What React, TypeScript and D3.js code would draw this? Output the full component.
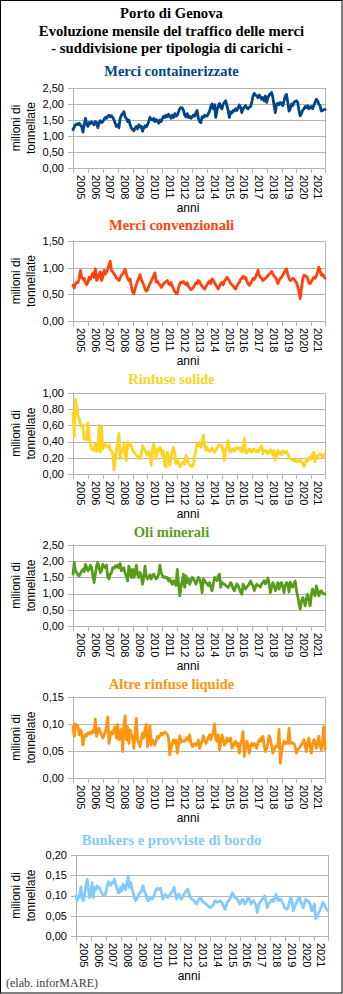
import React from "react";
import * as d3 from "d3";

const years = ["2005","2006","2007","2008","2009","2010","2011","2012","2013","2014","2015","2016","2017","2018","2019","2020","2021"];

const containerizzate = [
  1.20, 1.28, 1.35, 1.38, 1.36, 1.40, 1.33, 1.30, 1.12, 1.35, 1.55, 1.38,
  1.30, 1.42, 1.38, 1.45, 1.40, 1.35, 1.45, 1.42, 1.26, 1.40, 1.48, 1.42,
  1.45, 1.52, 1.58, 1.55, 1.62, 1.65, 1.60, 1.63, 1.58, 1.50, 1.40, 1.30,
  1.35, 1.26, 1.55, 1.65, 1.70, 1.76, 1.60, 1.55, 1.45, 1.50, 1.35, 1.25,
  1.20, 1.16, 1.25, 1.30, 1.22, 1.35, 1.28, 1.30, 1.15, 1.25, 1.32, 1.28,
  1.35, 1.45, 1.58, 1.52, 1.50, 1.55, 1.45, 1.52, 1.48, 1.40, 1.50, 1.45,
  1.55, 1.62, 1.58, 1.65, 1.60, 1.68, 1.62, 1.55, 1.65, 1.58, 1.70, 1.62,
  1.65, 1.75, 1.85, 1.89, 1.88, 1.80, 1.65, 1.60, 1.70, 1.58, 1.62, 1.55,
  1.60, 1.65, 1.62, 1.72, 1.80, 1.55, 1.45, 1.42, 1.60, 1.58, 1.65, 1.62,
  1.62, 1.70, 1.78, 1.92, 2.00, 1.85, 1.98, 1.58, 1.80, 1.95, 2.02, 1.90,
  1.85, 2.00, 2.05, 2.10, 1.95, 1.80, 1.58, 1.75, 1.72, 1.80, 1.78, 1.85,
  1.80, 1.88, 1.97, 1.90, 1.73, 1.85, 1.90, 1.95, 1.88, 1.85, 1.90, 1.92,
  2.05, 2.25, 2.33, 2.28, 2.25, 2.20, 2.28, 2.22, 2.15, 2.20, 2.10, 2.25,
  2.05, 2.20, 2.28, 2.32, 2.36, 2.20, 1.95, 1.73, 2.00, 2.02, 1.98, 2.05,
  2.00, 1.95, 2.10, 2.25, 2.30, 2.05, 1.78, 1.85, 2.00, 1.95, 2.05, 2.08,
  2.10, 2.05, 1.80, 1.63, 1.70, 1.80, 1.85, 1.92, 1.88, 1.95, 1.85, 1.90,
  1.92, 1.85, 1.95, 2.05, 2.15, 2.10, 2.00, 1.95, 1.78, 1.80, 1.82, 1.83,
];

const convenzionali = [
  0.67, 0.62, 0.70, 0.73, 0.72, 0.80, 0.95, 0.82, 0.78, 0.80, 0.72, 0.68,
  0.72, 0.82, 0.78, 0.85, 0.90, 0.82, 0.98, 0.76, 0.80, 0.88, 0.92, 0.76,
  0.82, 0.95, 0.88, 0.92, 0.98, 1.05, 1.12, 0.95, 0.92, 0.89, 0.85, 0.80,
  0.80, 0.76, 0.80, 0.86, 0.88, 0.92, 0.97, 0.88, 0.80, 0.76, 0.79, 0.65,
  0.55, 0.51, 0.60, 0.68, 0.75, 0.80, 0.87, 0.78, 0.73, 0.68, 0.60, 0.56,
  0.58, 0.65, 0.70, 0.75, 0.80, 0.85, 0.90, 0.73, 0.75, 0.70, 0.68, 0.63,
  0.66, 0.70, 0.72, 0.74, 0.76, 0.70, 0.68, 0.72, 0.65, 0.60, 0.55, 0.52,
  0.51, 0.62, 0.70, 0.73, 0.72, 0.74, 0.70, 0.68, 0.72, 0.65, 0.62, 0.59,
  0.60, 0.63, 0.68, 0.72, 0.70, 0.76, 0.74, 0.68, 0.65, 0.62, 0.60, 0.64,
  0.68, 0.72, 0.75, 0.70, 0.79, 0.76, 0.72, 0.68, 0.64, 0.60, 0.65, 0.70,
  0.72, 0.68, 0.75, 0.78, 0.82, 0.79, 0.75, 0.70, 0.68, 0.66, 0.62, 0.60,
  0.65, 0.70, 0.72, 0.78, 0.80, 0.84, 0.80, 0.82, 0.75, 0.70, 0.67, 0.70,
  0.75, 0.80, 0.78, 0.82, 0.88, 0.95, 0.86, 0.82, 0.80, 0.76, 0.78, 0.80,
  0.82, 0.85, 0.88, 0.90, 0.93, 0.88, 0.84, 0.82, 0.78, 0.70, 0.76, 0.80,
  0.82, 0.86, 0.90, 0.95, 0.98, 0.88, 0.80, 0.76, 0.78, 0.80, 0.79, 0.75,
  0.72, 0.65, 0.55, 0.42, 0.60, 0.78, 0.86, 0.85, 0.84, 0.80, 0.72, 0.70,
  0.74, 0.78, 0.82, 0.80, 0.84, 0.92, 1.01, 0.95, 0.86, 0.88, 0.84, 0.80,
];

const rinfuseSolide = [
  0.75, 0.46, 0.92, 0.85, 0.72, 0.68, 0.62, 0.58, 0.60, 0.43, 0.45, 0.42,
  0.63, 0.45, 0.38, 0.31, 0.30, 0.29, 0.37, 0.28, 0.30, 0.60, 0.27, 0.58,
  0.31, 0.35, 0.37, 0.34, 0.33, 0.36, 0.30, 0.29, 0.25, 0.05, 0.17, 0.30,
  0.38, 0.50, 0.19, 0.27, 0.30, 0.37, 0.24, 0.17, 0.39, 0.35, 0.38, 0.33,
  0.30, 0.27, 0.25, 0.23, 0.22, 0.20, 0.19, 0.25, 0.35, 0.32, 0.29, 0.26,
  0.23, 0.28, 0.25, 0.11, 0.30, 0.37, 0.28, 0.19, 0.31, 0.28, 0.33, 0.30,
  0.22, 0.28, 0.10, 0.09, 0.27, 0.22, 0.11, 0.20, 0.28, 0.33, 0.25, 0.13,
  0.18, 0.14, 0.09, 0.12, 0.13, 0.15, 0.12, 0.23, 0.20, 0.13, 0.11, 0.10,
  0.09, 0.12, 0.22, 0.29, 0.37, 0.35, 0.39, 0.33, 0.38, 0.48, 0.35, 0.29,
  0.33, 0.30, 0.28, 0.29, 0.32, 0.30, 0.27, 0.29, 0.32, 0.35, 0.36, 0.34,
  0.35, 0.28, 0.17, 0.30, 0.33, 0.41, 0.29, 0.27, 0.30, 0.31, 0.28, 0.32,
  0.31, 0.33, 0.30, 0.32, 0.27, 0.29, 0.44, 0.27, 0.26, 0.29, 0.31, 0.28,
  0.27, 0.31, 0.30, 0.28, 0.29, 0.27, 0.30, 0.33, 0.35, 0.25, 0.28, 0.29,
  0.28, 0.25, 0.27, 0.30, 0.26, 0.24, 0.29, 0.17, 0.22, 0.29, 0.25, 0.27,
  0.24, 0.29, 0.26, 0.27, 0.28, 0.25, 0.21, 0.19, 0.18, 0.17, 0.16, 0.17,
  0.15, 0.16, 0.18, 0.15, 0.16, 0.14, 0.09, 0.13, 0.17, 0.16, 0.20, 0.21,
  0.18, 0.25, 0.27, 0.15, 0.22, 0.21, 0.23, 0.25, 0.24, 0.20, 0.23, 0.25,
];

const oliMinerali = [
  1.60, 1.96, 1.70, 1.65, 1.58, 1.55, 1.62, 1.70, 1.75, 1.68, 1.90, 1.82,
  1.70, 1.75, 1.88, 1.80, 1.55, 1.34, 1.60, 1.85, 1.96, 1.80, 1.65, 1.70,
  1.90, 1.85, 1.80, 1.88, 1.50, 1.45, 1.60, 1.65, 1.80, 1.78, 1.85, 1.82,
  1.88, 1.80, 1.93, 1.70, 1.75, 1.80, 1.62, 1.55, 1.39, 1.85, 1.70, 1.50,
  1.75, 1.50, 1.62, 1.88, 1.60, 1.50, 1.65, 1.55, 1.29, 1.50, 1.85, 1.55,
  1.45, 1.50, 1.58, 1.45, 1.55, 1.60, 1.52, 1.45, 1.50, 1.60, 1.88, 1.65,
  1.55, 1.50, 1.52, 1.48, 1.50, 1.39, 1.45, 1.35, 1.29, 1.40, 1.30, 1.25,
  1.75, 1.30, 0.93, 1.20, 1.39, 1.60, 1.19, 1.55, 1.34, 1.45, 1.29, 1.40,
  1.50, 1.45, 1.38, 1.29, 1.40, 1.50, 1.45, 1.30, 1.03, 1.45, 1.40, 1.34,
  1.30, 1.25, 1.34, 1.20, 1.09, 1.30, 1.50, 1.45, 1.40, 1.55, 1.60, 1.19,
  1.35, 1.30, 1.29, 1.25, 1.22, 1.19, 1.25, 1.34, 1.28, 1.15, 1.09, 1.20,
  1.30, 1.25, 1.15, 1.05, 0.98, 1.29, 1.20, 1.14, 1.20, 1.25, 1.30, 1.39,
  1.30, 1.25, 1.09, 1.20, 1.29, 1.25, 1.24, 1.20, 1.30, 1.35, 1.40, 1.30,
  1.35, 1.48, 1.30, 1.03, 1.20, 1.34, 1.25, 1.09, 1.20, 1.34, 1.14, 1.30,
  1.34, 1.20, 1.03, 1.25, 1.34, 1.30, 1.05, 1.35, 1.25, 1.20, 1.30, 1.39,
  1.10, 0.93, 0.70, 0.52, 0.75, 0.88, 0.80, 0.62, 0.85, 0.98, 0.80, 0.62,
  0.95, 1.14, 1.00, 0.93, 1.24, 1.10, 0.93, 1.05, 1.09, 1.02, 1.00, 0.98,
];

const altreRinfuseLiquide = [
  0.095, 0.077, 0.100, 0.098, 0.095, 0.080, 0.089, 0.085, 0.061, 0.075, 0.080, 0.078,
  0.084, 0.082, 0.085, 0.083, 0.088, 0.085, 0.109, 0.077, 0.089, 0.092, 0.085, 0.080,
  0.074, 0.080, 0.085, 0.095, 0.113, 0.064, 0.078, 0.086, 0.082, 0.090, 0.095, 0.074,
  0.099, 0.071, 0.085, 0.090, 0.049, 0.100, 0.115, 0.071, 0.095, 0.064, 0.089, 0.080,
  0.075, 0.055, 0.085, 0.111, 0.071, 0.065, 0.058, 0.070, 0.083, 0.075, 0.090, 0.099,
  0.058, 0.075, 0.097, 0.061, 0.071, 0.065, 0.061, 0.070, 0.077, 0.074, 0.078, 0.083,
  0.080, 0.083, 0.085, 0.083, 0.080, 0.074, 0.043, 0.055, 0.064, 0.071, 0.065, 0.070,
  0.046, 0.060, 0.078, 0.066, 0.070, 0.068, 0.068, 0.072, 0.075, 0.070, 0.080, 0.065,
  0.058, 0.062, 0.064, 0.060, 0.064, 0.070, 0.055, 0.062, 0.068, 0.078, 0.070, 0.064,
  0.068, 0.075, 0.080, 0.071, 0.078, 0.085, 0.100, 0.071, 0.068, 0.080, 0.052, 0.065,
  0.080, 0.070, 0.061, 0.065, 0.074, 0.068, 0.070, 0.074, 0.055, 0.060, 0.064, 0.068,
  0.060, 0.064, 0.046, 0.064, 0.070, 0.086, 0.040, 0.055, 0.068, 0.060, 0.046, 0.058,
  0.064, 0.060, 0.064, 0.060, 0.055, 0.065, 0.071, 0.068, 0.075, 0.077, 0.060, 0.049,
  0.055, 0.065, 0.078, 0.072, 0.060, 0.046, 0.052, 0.058, 0.060, 0.058, 0.090, 0.027,
  0.050, 0.060, 0.068, 0.064, 0.066, 0.064, 0.092, 0.064, 0.066, 0.064, 0.064, 0.058,
  0.046, 0.052, 0.055, 0.058, 0.062, 0.065, 0.071, 0.060, 0.049, 0.065, 0.074, 0.060,
  0.046, 0.062, 0.071, 0.068, 0.055, 0.065, 0.077, 0.060, 0.052, 0.070, 0.095, 0.053,
];

const bunkers = [
  0.099, 0.087, 0.095, 0.103, 0.121, 0.091, 0.087, 0.105, 0.125, 0.140, 0.116, 0.095,
  0.105, 0.132, 0.095, 0.120, 0.115, 0.124, 0.118, 0.120, 0.110, 0.105, 0.099, 0.100,
  0.107, 0.120, 0.134, 0.128, 0.125, 0.132, 0.130, 0.140, 0.128, 0.118, 0.107, 0.107,
  0.120, 0.112, 0.128, 0.120, 0.115, 0.130, 0.146, 0.120, 0.132, 0.118, 0.107, 0.095,
  0.087, 0.092, 0.099, 0.105, 0.107, 0.115, 0.124, 0.111, 0.105, 0.095, 0.087, 0.090,
  0.095, 0.091, 0.093, 0.100, 0.110, 0.116, 0.118, 0.115, 0.118, 0.105, 0.091, 0.097,
  0.103, 0.098, 0.095, 0.100, 0.103, 0.108, 0.112, 0.120, 0.105, 0.091, 0.098, 0.103,
  0.095, 0.091, 0.098, 0.103, 0.108, 0.112, 0.116, 0.105, 0.095, 0.092, 0.090, 0.087,
  0.082, 0.079, 0.085, 0.090, 0.095, 0.092, 0.085, 0.083, 0.080, 0.079, 0.075, 0.072,
  0.070, 0.073, 0.075, 0.080, 0.087, 0.085, 0.083, 0.085, 0.087, 0.085, 0.080, 0.072,
  0.066, 0.075, 0.083, 0.088, 0.091, 0.098, 0.107, 0.101, 0.095, 0.093, 0.091, 0.085,
  0.079, 0.085, 0.091, 0.088, 0.079, 0.083, 0.090, 0.095, 0.088, 0.079, 0.084, 0.087,
  0.082, 0.075, 0.058, 0.072, 0.083, 0.087, 0.090, 0.094, 0.099, 0.085, 0.070, 0.078,
  0.083, 0.087, 0.090, 0.085, 0.092, 0.103, 0.095, 0.087, 0.090, 0.091, 0.085, 0.078,
  0.070, 0.068, 0.066, 0.072, 0.085, 0.095, 0.085, 0.062, 0.070, 0.079, 0.085, 0.092,
  0.095, 0.085, 0.078, 0.070, 0.080, 0.091, 0.088, 0.085, 0.083, 0.075, 0.062, 0.070,
  0.079, 0.042, 0.048, 0.054, 0.060, 0.068, 0.075, 0.083, 0.078, 0.070, 0.066, 0.062,
];

const mainTitle = ["Porto di Genova", "Evoluzione mensile del traffico delle merci", "- suddivisione per tipologia di carichi -"];
const seriesTitles = ["Merci containerizzate", "Merci convenzionali", "Rinfuse solide", "Oli minerali", "Altre rinfuse liquide", "Bunkers e provviste di bordo"];
const seriesValues = [containerizzate, convenzionali, rinfuseSolide, oliMinerali, altreRinfuseLiquide, bunkers];
const seriesColors = ["#004586", "#ff420e", "#ffd320", "#579d1c", "#ff950e", "#83caff"];
const yMaxes = [2.5, 1.5, 1.0, 2.5, 0.15, 0.2];
const ySteps = [0.5, 0.5, 0.2, 0.5, 0.05, 0.05];

// layout (pixels)
const panelLayout = [
  { titleY: 76, top: 88, bottom: 168, left: 73, right: 325 },
  { titleY: 230, top: 241, bottom: 321, left: 73, right: 325 },
  { titleY: 384, top: 393, bottom: 474, left: 73, right: 325 },
  { titleY: 537, top: 545, bottom: 626, left: 73, right: 325 },
  { titleY: 689, top: 697, bottom: 778, left: 73, right: 325 },
  { titleY: 845, top: 855, bottom: 936, left: 76, right: 328 },
];

const SANS = "'Liberation Sans', Arial, sans-serif";
const SERIF = "'Liberation Serif', 'Times New Roman', serif";
const GRID = "#b3b3b3";
const fmt = (v: number) => d3.format(".2f")(v).replace(".", ",");

function Panel({ idx }: { idx: number }) {
  const L = panelLayout[idx];
  const values = seriesValues[idx];
  const n = values.length;
  const x = d3.scaleLinear().domain([0, n - 1]).range([L.left, L.right]);
  const y = d3.scaleLinear().domain([0, yMaxes[idx]]).range([L.bottom, L.top]);
  const yTicks = d3.range(0, yMaxes[idx] + ySteps[idx] / 2, ySteps[idx]);
  const xTicks = [...years.map((_, i) => i * 12), n - 1];
  const line = d3.line<number>().x((_, i) => x(i)).y((d) => y(d));
  const midY = (L.top + L.bottom) / 2;
  return (
    <g>
      <text x={171.5} y={L.titleY} textAnchor="middle" fontFamily={SERIF} fontWeight="bold" fontSize={14.5} fill={seriesColors[idx]}>
        {seriesTitles[idx]}
      </text>
      {yTicks.map((t) => (
        <g key={t}>
          <line x1={L.left - 5} x2={L.right} y1={Math.round(y(t)) + 0.5} y2={Math.round(y(t)) + 0.5} stroke={GRID} strokeWidth={1} />
          <text x={L.left - 9} y={y(t)} dy="0.35em" textAnchor="end" fontFamily={SANS} fontSize={11} fill="#000">
            {fmt(t)}
          </text>
        </g>
      ))}
      <line x1={L.left + 0.5} x2={L.left + 0.5} y1={L.top} y2={L.bottom + 5} stroke={GRID} />
      <line x1={L.right + 0.5} x2={L.right + 0.5} y1={L.top} y2={L.bottom + 5} stroke={GRID} />
      {xTicks.map((t) => (
        <line key={t} x1={Math.round(x(t)) + 0.5} x2={Math.round(x(t)) + 0.5} y1={L.bottom} y2={L.bottom + 5} stroke={GRID} />
      ))}
      {years.map((yr, i) => {
        const cx = (x(i * 12) + x(Math.min((i + 1) * 12, n - 1))) / 2;
        const ty = L.bottom + 7;
        return (
          <text key={yr} x={cx} y={ty} transform={`rotate(90 ${cx} ${ty})`} dy="0.35em" textAnchor="start" fontFamily={SANS} fontSize={11} fill="#000">
            {yr}
          </text>
        );
      })}
      <path d={line(values) || ""} fill="none" stroke={seriesColors[idx]} strokeWidth={2.8} strokeLinejoin="round" strokeLinecap="round" />
      <text x={16} y={midY} transform={`rotate(-90 16 ${midY})`} dy="0.35em" textAnchor="middle" fontFamily={SANS} fontSize={12} fill="#000">
        milioni di
      </text>
      <text x={31} y={midY} transform={`rotate(-90 31 ${midY})`} dy="0.35em" textAnchor="middle" fontFamily={SANS} fontSize={12} fill="#000">
        tonnellate
      </text>
      <text x={idx === 5 ? 189 : 188} y={L.bottom + 40} dy="0.35em" textAnchor="middle" fontFamily={SANS} fontSize={12} fill="#000">
        anni
      </text>
    </g>
  );
}

export default function App() {
  return (
    <svg width={343} height={994} style={{ position: "absolute", left: 0, top: 0, background: "#fff" }}>
      <rect x={0} y={0} width={343} height={994} fill="#fff" />
      {mainTitle.map((t, i) => (
        <text key={i} x={171.5} y={18 + i * 17.5} textAnchor="middle" fontFamily={SERIF} fontWeight="bold" fontSize={14.7} fill="#000">
          {t}
        </text>
      ))}
      {seriesTitles.map((_, i) => (
        <Panel key={i} idx={i} />
      ))}
      <text x={6} y={987} fontFamily={SERIF} fontSize={12} fill="#404040">
        (elab. inforMARE)
      </text>
      <rect x={0.5} y={0.5} width={341.5} height={992.5} fill="none" stroke="#000" strokeWidth={1} />
    </svg>
  );
}
